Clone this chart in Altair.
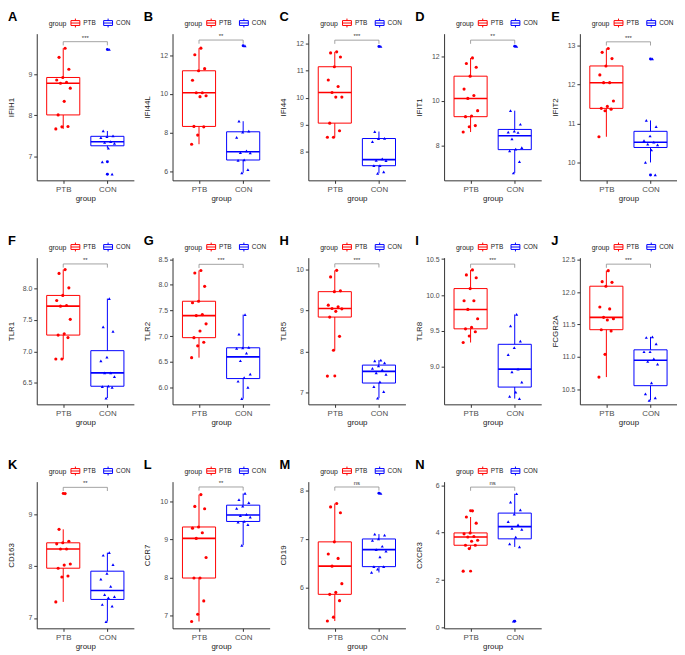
import altair as alt
import pandas as pd

FONT = "Liberation Sans"

panel_letters = list("ABCDEFGHIJKLMN")
genes = ["IFIH1", "IFI44L", "IFI44", "IFIT1", "IFIT2", "TLR1", "TLR2", "TLR5",
         "TLR8", "FCGR2A", "CD163", "CCR7", "CD19", "CXCR3"]
groups = ["PTB", "CON"]
group_colors = ["#FF0000", "#0000FF"]
group_shapes = ["circle", "triangle-up"]

ptb_values = [
    [9.63, 9.41, 9.12, 8.92, 8.86, 8.80, 8.78, 8.66, 8.34, 8.01, 7.73, 7.72, 7.67],
    [12.37, 12.03, 11.31, 11.20, 10.71, 10.06, 10.06, 9.91, 9.86, 8.32, 8.30, 7.87, 7.40],
    [11.69, 11.65, 11.50, 11.14, 10.65, 10.41, 10.19, 10.02, 10.02, 9.06, 8.78, 8.54, 8.54],
    [11.93, 11.68, 11.51, 11.11, 10.53, 10.24, 10.11, 9.56, 9.32, 9.29, 8.89, 8.84, 8.60],
    [12.93, 12.83, 12.67, 12.48, 12.25, 12.05, 12.05, 11.58, 11.44, 11.39, 11.37, 11.33, 10.66],
    [8.30, 8.24, 8.01, 7.89, 7.81, 7.73, 7.72, 7.51, 7.28, 7.26, 7.22, 6.88, 6.88],
    [8.28, 8.23, 7.97, 7.68, 7.65, 7.42, 7.40, 7.24, 7.10, 6.97, 6.88, 6.81, 6.58],
    [9.98, 9.82, 9.48, 9.46, 9.13, 9.09, 9.05, 9.04, 8.98, 8.84, 8.37, 8.03, 7.40],
    [10.35, 10.28, 10.24, 10.09, 9.92, 9.92, 9.80, 9.67, 9.55, 9.53, 9.49, 9.43, 9.34],
    [12.33, 12.16, 12.15, 12.09, 11.77, 11.74, 11.61, 11.59, 11.57, 11.42, 11.40, 11.04, 10.69],
    [9.40, 8.71, 8.48, 8.45, 8.43, 8.33, 8.33, 8.04, 8.02, 7.96, 7.81, 7.79, 7.31],
    [10.18, 9.87, 9.81, 9.33, 9.30, 9.18, 9.03, 8.53, 7.99, 7.99, 7.39, 7.04, 6.85],
    [7.74, 7.67, 7.55, 6.95, 6.70, 6.61, 6.45, 6.09, 5.91, 5.87, 5.74, 5.40, 5.32],
    [4.92, 4.66, 4.40, 3.99, 3.95, 3.84, 3.82, 3.68, 3.64, 3.47, 3.47, 3.33, 2.38],
]

con_values = [
    [9.60, 7.62, 7.50, 7.48, 7.46, 7.36, 7.34, 7.32, 7.20, 6.87, 6.57],
    [12.49, 8.59, 8.08, 8.03, 7.75, 7.06, 6.96, 6.95, 6.59, 6.56, 6.09, 5.92],
    [11.89, 8.75, 8.50, 8.49, 8.38, 7.74, 7.69, 7.68, 7.49, 7.49, 7.26, 7.21],
    [12.45, 9.56, 8.95, 8.64, 8.60, 8.58, 8.29, 7.90, 7.83, 7.75, 7.27, 6.76],
    [12.66, 11.08, 10.92, 10.68, 10.56, 10.52, 10.47, 10.45, 10.32, 10.00, 9.68],
    [7.84, 7.39, 7.32, 6.91, 6.85, 6.66, 6.66, 6.60, 6.45, 6.44, 6.43, 6.26],
    [7.42, 7.04, 6.78, 6.77, 6.76, 6.67, 6.52, 6.26, 6.19, 6.12, 6.00, 5.78],
    [7.79, 7.77, 7.72, 7.65, 7.59, 7.55, 7.48, 7.44, 7.26, 7.14, 7.02, 6.86],
    [9.73, 9.57, 9.36, 9.27, 9.17, 8.97, 8.93, 8.79, 8.65, 8.59, 8.56],
    [11.31, 11.30, 11.20, 11.08, 11.08, 10.97, 10.93, 10.89, 10.60, 10.43, 10.37, 10.33],
    [8.26, 8.21, 8.03, 7.86, 7.75, 7.61, 7.45, 7.41, 7.39, 7.26, 7.23, 6.93],
    [10.21, 10.05, 9.97, 9.88, 9.82, 9.66, 9.63, 9.59, 9.48, 9.46, 9.39, 8.85],
    [7.95, 7.11, 7.09, 7.01, 6.98, 6.86, 6.79, 6.76, 6.64, 6.44, 6.44, 6.39, 6.32],
    [5.64, 5.29, 4.96, 4.78, 4.47, 4.33, 4.18, 4.14, 3.81, 3.53, 3.40, 0.27],
]

signif_labels = ["***", "**", "***", "**", "***", "**", "***", "***", "***", "***",
                 "**", "**", "ns", "ns"]
bracket_levels = [9.79, 12.79, 12.12, 12.73, 13.10, 8.39, 8.40, 10.14, 10.43, 12.43,
                  9.52, 10.38, 8.08, 5.92]

y_domains = [
    [6.42, 9.985], [5.53, 13.12], [6.95, 12.36], [6.43, 13.02], [9.54, 13.31],
    [6.16, 8.49], [5.67, 8.53], [6.71, 10.29], [8.48, 10.52], [10.27, 12.53],
    [6.80, 9.63], [6.67, 10.52], [5.17, 8.19], [-0.03, 6.15],
]
y_tick_values = [
    [7, 8, 9], [6, 8, 10, 12], [8, 9, 10, 11, 12], [8, 10, 12], [10, 11, 12, 13],
    [6.5, 7.0, 7.5, 8.0], [6.0, 6.5, 7.0, 7.5, 8.0, 8.5], [7, 8, 9, 10],
    [9.0, 9.5, 10.0, 10.5], [10.5, 11.0, 11.5, 12.0, 12.5],
    [7, 8, 9], [7, 8, 9, 10], [6, 7, 8], [0, 2, 4, 6],
]
one_decimal = {"F", "G", "I", "J"}

PLOT_W = 98
PLOT_H = 148
BOX_PATH = "M-1,-0.55H1V0.55H-1Z M-1,0H1 M0,-0.55V-1 M0,0.55V1"


def make_panel(k):
    letter = panel_letters[k]
    rows = []
    for g, vals in (("PTB", ptb_values[k]), ("CON", con_values[k])):
        for v in vals:
            rows.append({"group": g, "value": v})
    df = pd.DataFrame(rows)

    lo, hi = y_domains[k]
    ys = alt.Scale(domain=[lo, hi], nice=False, zero=False)
    xs = alt.Scale(domain=[0.4, 2.6], nice=False, zero=False)
    xax = alt.Axis(values=[1, 2], labelExpr="datum.value == 1 ? 'PTB' : 'CON'",
                   title="group", labelFontSize=8, labelColor="#4D4D4D",
                   titleFontSize=8, titlePadding=1, labelPadding=2)
    yax = alt.Axis(values=y_tick_values[k],
                   format=".1f" if letter in one_decimal else "d",
                   title=genes[k], minExtent=19, maxExtent=19, titlePadding=2)

    def X(field):
        return alt.X(field, scale=xs, axis=xax)

    def Y(field):
        return alt.Y(field, scale=ys, axis=yax)

    legend = alt.Legend(title="group", orient="none", legendX=12, legendY=-16,
                        direction="horizontal", titleOrient="left",
                        symbolType=BOX_PATH, symbolSize=80,
                        symbolFillColor="white", symbolStrokeWidth=1,
                        labelFontSize=6.5, titleFontSize=7,
                        titleFontWeight="normal", columnPadding=5,
                        labelOffset=3, titlePadding=4)
    stroke_scale = alt.Scale(domain=groups, range=group_colors)
    stroke_enc = alt.Stroke("group:N", scale=stroke_scale, legend=legend)

    base = alt.Chart(df).transform_calculate(xc="datum.group == 'PTB' ? 1 : 2")

    fences = base.transform_joinaggregate(
        q1="q1(value)", q3="q3(value)", groupby=["group"]
    ).transform_calculate(
        lof="datum.q1 - 1.5 * (datum.q3 - datum.q1)",
        hif="datum.q3 + 1.5 * (datum.q3 - datum.q1)",
    )

    whisk = fences.transform_filter(
        "datum.value >= datum.lof && datum.value <= datum.hif"
    ).transform_aggregate(
        wmin="min(value)", wmax="max(value)", groupby=["group", "xc"]
    ).mark_rule(strokeWidth=1).encode(
        x=X("xc:Q"), y=Y("wmin:Q"), y2="wmax:Q", stroke=stroke_enc)

    stats = base.transform_aggregate(
        q1="q1(value)", q3="q3(value)", med="median(value)", groupby=["group", "xc"]
    ).transform_calculate(xl="datum.xc - 0.375", xr="datum.xc + 0.375")

    box = stats.mark_rect(fill="white", strokeWidth=1).encode(
        x=X("xl:Q"), x2="xr:Q", y=Y("q1:Q"), y2="q3:Q", stroke=stroke_enc)
    med = stats.mark_rule(strokeWidth=1.6).encode(
        x=X("xl:Q"), x2="xr:Q", y=Y("med:Q"), stroke=stroke_enc)

    layers = [whisk, box, med]

    jittered = base.transform_window(
        rn="row_number()", groupby=["group"]
    ).transform_calculate(
        jx="datum.xc + ((datum.rn * 0.618034) % 1 - 0.5) * 0.36"
    )
    for g, col, shp in zip(groups, group_colors, group_shapes):
        layers.append(
            jittered.transform_filter(alt.datum.group == g).mark_point(
                filled=True, size=10, opacity=1, color=col, shape=shp
            ).encode(x=X("jx:Q"), y=Y("value:Q")))
        layers.append(
            fences.transform_filter(alt.datum.group == g).transform_filter(
                "datum.value < datum.lof || datum.value > datum.hif"
            ).mark_point(filled=True, size=9, opacity=1, color=col, shape="circle"
                         ).encode(x=X("xc:Q"), y=Y("value:Q")))

    b = bracket_levels[k]
    drop = 0.025 * (hi - lo)
    seg = pd.DataFrame({
        "xa": [1, 1, 2], "xb": [2, 1, 2],
        "ya": [b, b - drop, b - drop], "yb": [b, b, b],
    })
    layers.append(alt.Chart(seg).mark_rule(color="#8C8C8C", strokeWidth=0.8).encode(
        x=X("xa:Q"), x2="xb:Q", y=Y("ya:Q"), y2="yb:Q"))
    lab = pd.DataFrame({"xm": [1.5], "y": [b], "label": [signif_labels[k]]})
    layers.append(alt.Chart(lab).mark_text(fontSize=6, dy=-4, color="#333333",
                                           font=FONT).encode(
        x=X("xm:Q"), y=Y("y:Q"), text="label:N"))

    return alt.layer(*layers).properties(
        width=PLOT_W, height=PLOT_H,
        title=alt.TitleParams(text=letter, anchor="start", fontSize=13,
                              fontWeight="bold", font=FONT, color="black",
                              offset=-6, frame="bounds"))


def indep(c):
    return c.resolve_scale(stroke="independent").resolve_legend(stroke="independent")


panels = [make_panel(k) for k in range(len(panel_letters))]
rows = [panels[0:5], panels[5:10], panels[10:14]]

chart = indep(alt.vconcat(
    *[indep(alt.hconcat(*r, spacing=10)) for r in rows], spacing=33
)).properties(padding=0).configure_view(stroke=None).configure_axis(
    domainColor="#333333", tickColor="#333333", labelColor="#4D4D4D",
    titleColor="#1A1A1A", labelFont=FONT, titleFont=FONT, labelFontSize=7,
    titleFontSize=8, titleFontWeight="normal", grid=False, tickSize=3,
    domainWidth=1, tickWidth=1, labelPadding=2
).configure_legend(labelFont=FONT, titleFont=FONT, labelColor="#1A1A1A",
                   titleColor="#1A1A1A").configure_title(font=FONT)

chart.save("out.html", embed_options={"renderer": "svg", "actions": False})
